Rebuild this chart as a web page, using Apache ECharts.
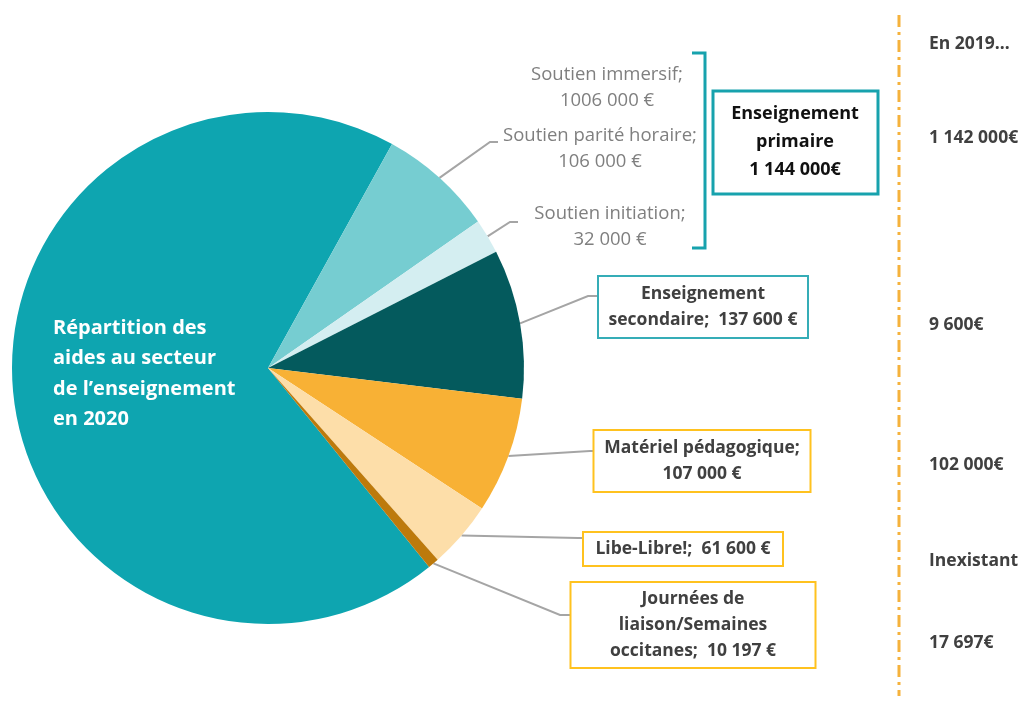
<!DOCTYPE html>
<html>
<head>
<meta charset="utf-8">
<script src="https://cdn.jsdelivr.net/npm/echarts@6/dist/echarts.min.js"></script>
<style>
html,body{margin:0;padding:0;background:#fff;}
#chart{width:1026px;height:706px;}
</style>
</head>
<body>
<div id="chart"></div>
<script>
// ---- data ----
const categories = ['Soutien immersif', 'Soutien parité horaire', 'Soutien initiation', 'Enseignement secondaire', 'Matériel pédagogique', 'Libe-Libre!', 'Journées de liaison/Semaines occitanes'];
const values2020 = [1006000, 106000, 32000, 137600, 107000, 61600, 10197];
const labels2020 = ['Soutien immersif;\n1006 000 €', 'Soutien parité horaire;\n106 000 €', 'Soutien initiation;\n32 000 €', 'Enseignement\nsecondaire;  137 600 €', 'Matériel pédagogique;\n107 000 €', 'Libe-Libre!;  61 600 €', 'Journées de\nliaison/Semaines\noccitanes;  10 197 €'];
const colors = ['#0EA5B0', '#76CDD1', '#D4EEF1', '#045A5D', '#F8B135', '#FDDEA9', '#BD7A0C'];
const primaryLabel = 'Enseignement\nprimaire\n1 144 000€';
const title = 'Répartition des\naides au secteur\nde l’enseignement\nen 2020';
const header2019 = 'En 2019…';
const values2019 = ['1 142 000€', '9 600€', '102 000€', 'Inexistant', '17 697€'];

// ---- layout of annotations (positions only) ----
const FONT = '"Open Sans", sans-serif';
const GRAY = '#7F7F7F';
const DARK = '#404040';
const TEAL_BOX = '#35ADB7';
const GOLD = '#FFC21F';
const labelPos = [
  {x: 607, y: 88},
  {x: 600, y: 149, elbow: [490, 142], end: [498, 142]},
  {x: 610, y: 227, elbow: [510, 222], end: [518, 222]},
  {x: 703, y: 307, elbow: [588, 296], end: [598, 296]},
  {x: 702, y: 461, elbow: [590, 451], end: [594, 451]},
  {x: 683, y: 549, elbow: [578, 538], end: [583, 538]},
  {x: 693, y: 625, elbow: [560, 615], end: [571, 615]}
];
const boxStyles = [
  null, null, null,
  {border: TEAL_BOX, w: 200, h: 54},
  {border: GOLD, w: 207, h: 54},
  {border: GOLD, w: 190, h: 26},
  {border: GOLD, w: 235, h: 78}
];

const data = categories.map((c, i) => {
  const b = boxStyles[i];
  const label = b ? {
    formatter: labels2020[i],
    color: DARK, fontWeight: 'bold', fontSize: 17.5, fontFamily: FONT,
    lineHeight: 26, backgroundColor: '#fff', borderColor: b.border, borderWidth: 2,
    padding: [3, 4], width: b.w, height: b.h, align: 'center', verticalAlign: 'middle'
  } : {
    formatter: labels2020[i], color: GRAY, fontSize: 18.5, fontFamily: FONT, lineHeight: 26, align: 'center'
  };
  return {
    name: c, value: values2020[i],
    itemStyle: {color: colors[i]},
    label: label,
    labelLine: {show: i !== 0}
  };
});

const chart = echarts.init(document.getElementById('chart'));
const graphics = [
  {type: 'text', left: 53, top: 313, z: 100, style: {text: title, fill: '#fff', font: 'bold 20px ' + FONT, lineHeight: 30.5}},
  {type: 'polyline', z: 100, shape: {points: [[692, 53], [705, 53], [705, 248], [692, 248]]}, style: {stroke: '#17A2AD', lineWidth: 3, fill: null}},
  {type: 'rect', z: 100, shape: {x: 713, y: 91, width: 165, height: 103}, style: {stroke: '#17A2AD', lineWidth: 3, fill: '#fff'}},
  {type: 'text', z: 101, x: 795, y: 142, style: {text: primaryLabel, fill: '#111', font: 'bold 18px ' + FONT, lineHeight: 28, align: 'center', verticalAlign: 'middle'}},
  {type: 'line', z: 100, shape: {x1: 899, y1: 15, x2: 899, y2: 696}, style: {stroke: '#F5B23C', lineWidth: 3, lineDash: [12, 5, 3, 5]}},
  {type: 'text', z: 100, x: 929, y: 44, style: {text: header2019, fill: DARK, font: 'bold 17.5px ' + FONT, verticalAlign: 'middle'}}
];
const rightY = [138, 325, 465, 561, 643];
values2019.forEach((t, i) => {
  graphics.push({type: 'text', z: 100, x: 929, y: rightY[i], style: {text: t, fill: DARK, font: 'bold 17.5px ' + FONT, verticalAlign: 'middle'}});
});

chart.setOption({
  animation: false,
  backgroundColor: '#fff',
  series: [{
    type: 'pie',
    center: [268, 368],
    radius: 256,
    startAngle: 309,
    clockwise: true,
    avoidLabelOverlap: false,
    data: data,
    label: {show: true, position: 'outside'},
    labelLine: {show: true, lineStyle: {color: '#A5A5A5', width: 2}, length: 10, length2: 10},
    emphasis: {disabled: true},
    labelLayout: function (p) {
      const lp = labelPos[p.dataIndex];
      const res = {x: lp.x, y: lp.y, align: 'center', verticalAlign: 'middle'};
      if (lp.elbow && p.labelLinePoints) {
        res.labelLinePoints = [p.labelLinePoints[0], lp.elbow, lp.end];
      }
      return res;
    }
  }],
  graphic: graphics
});
</script>
</body>
</html>
